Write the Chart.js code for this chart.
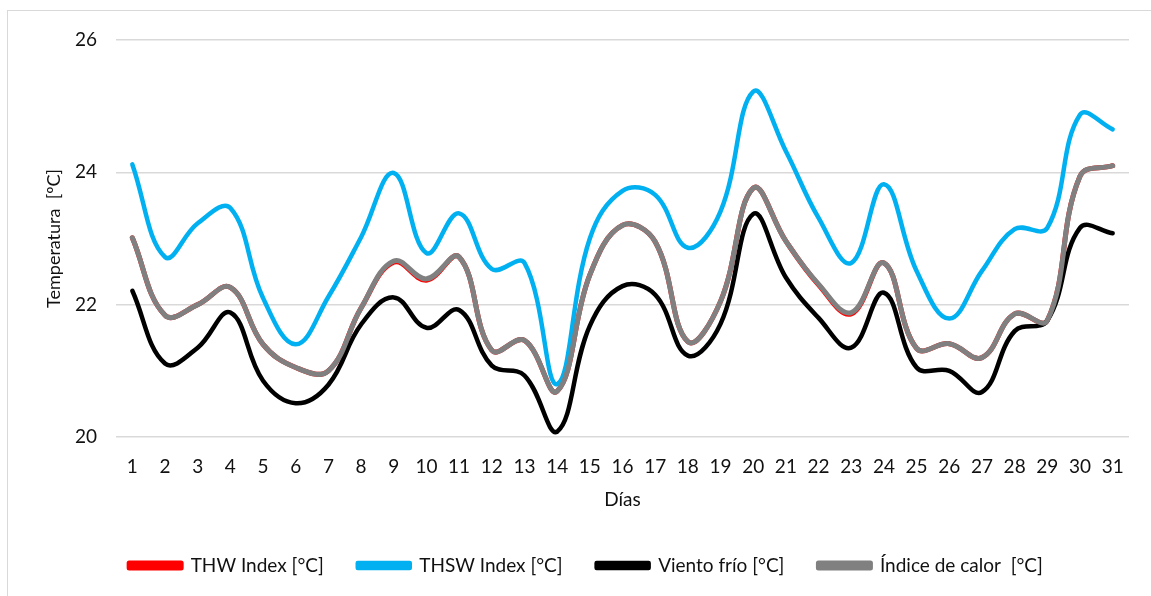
<!DOCTYPE html>
<html>
<head>
<meta charset="utf-8">
<script src="https://cdn.jsdelivr.net/npm/chart.js@4.4.1/dist/chart.umd.min.js"></script>
<style>
  html, body { margin: 0; padding: 0; background: #fff; overflow: hidden; }
  #frame { position: absolute; left: 7px; top: 10px; width: 1160px; height: 620px; border: 1px solid #d9d9d9; box-sizing: border-box; }
  #wrap { position: absolute; left: 0; top: 0; width: 1151px; height: 596px; }
</style>
</head>
<body>
<div id="frame"></div>
<div id="wrap"><canvas id="c" width="1151" height="596"></canvas></div>
<script>
const days = ["1","2","3","4","5","6","7","8","9","10","11","12","13","14","15","16","17","18","19","20","21","22","23","24","25","26","27","28","29","30","31"];
const yTicks = [20, 22, 24, 26];

const thwIndex = [23.01, 21.84, 22.00, 22.26, 21.40, 21.05, 21.00, 21.95, 22.64, 22.37, 22.72, 21.31, 21.46, 20.69, 22.45, 23.20, 22.95, 21.44, 22.05, 23.76, 22.96, 22.30, 21.86, 22.63, 21.34, 21.41, 21.20, 21.86, 21.76, 23.94, 24.10];
const thswIndex = [24.12, 22.72, 23.23, 23.46, 22.10, 21.40, 22.12, 23.02, 23.99, 22.78, 23.38, 22.54, 22.63, 20.80, 23.00, 23.72, 23.66, 22.86, 23.41, 25.22, 24.32, 23.31, 22.63, 23.82, 22.51, 21.79, 22.51, 23.14, 23.16, 24.87, 24.65];
const vientoFrio = [22.21, 21.11, 21.35, 21.88, 20.85, 20.51, 20.79, 21.70, 22.11, 21.65, 21.92, 21.08, 20.93, 20.08, 21.68, 22.28, 22.15, 21.23, 21.71, 23.37, 22.41, 21.80, 21.35, 22.18, 21.05, 21.00, 20.68, 21.60, 21.76, 23.16, 23.08];
const indiceCalor = [23.01, 21.84, 22.00, 22.26, 21.40, 21.05, 21.00, 21.95, 22.66, 22.39, 22.72, 21.31, 21.46, 20.69, 22.45, 23.20, 22.95, 21.44, 22.05, 23.76, 22.96, 22.31, 21.88, 22.63, 21.34, 21.41, 21.20, 21.86, 21.76, 23.94, 24.10];

const FONT = "Lato, 'Open Sans', sans-serif";

function ds(label, data, color, width, order) {
  return {
    label, data,
    borderColor: color, backgroundColor: color,
    borderWidth: width, pointRadius: 0, pointHoverRadius: 0,
    tension: 0.4, cubicInterpolationMode: 'default',
    borderCapStyle: 'round', borderJoinStyle: 'round',
    fill: false, order
  };
}

new Chart(document.getElementById('c'), {
  type: 'line',
  data: {
    labels: days,
    datasets: [
      ds('THW Index [°C]', thwIndex, '#ff0000', 5, 3),
      ds('THSW Index [°C]', thswIndex, '#00b0f0', 4.5, 2),
      ds('Viento frío [°C]', vientoFrio, '#000000', 4.5, 1),
      ds('Índice de calor  [°C]', indiceCalor, '#808080', 5, 0)
    ]
  },
  options: {
    responsive: false,
    animation: false,
    devicePixelRatio: 1,
    layout: { padding: { top: 40, right: 22, bottom: 11, left: 43 } },
    plugins: {
      tooltip: { enabled: false },
      legend: {
        position: 'bottom',
        labels: {
          color: '#111',
          font: { family: FONT, size: 19 },
          boxWidth: 52, boxHeight: 5,
          padding: 34,
          sort: (a, b) => a.datasetIndex - b.datasetIndex
        }
      }
    },
    scales: {
      x: {
        offset: true,
        grid: { display: false },
        border: { display: false },
        ticks: { color: '#111', font: { family: FONT, size: 19 }, padding: 10, maxRotation: 0, autoSkip: false },
        title: { display: true, text: 'Días', color: '#111', font: { family: FONT, size: 19 }, padding: { top: 1, bottom: 11 } },
        afterFit(s) { s.height = 85; }
      },
      y: {
        min: 20, max: 26,
        afterBuildTicks(s) { s.ticks = yTicks.map(v => ({ value: v })); },
        grid: { color: '#d9d9d9', lineWidth: 1.5, drawTicks: false },
        border: { display: false },
        ticks: { color: '#111', font: { family: FONT, size: 19 }, padding: 19 },
        title: { display: true, text: 'Temperatura  [ºC]', color: '#111', font: { family: FONT, size: 18 }, padding: { top: 0, bottom: 0 } },
        afterFit(s) { s.width = 73; }
      }
    }
  }
});
</script>
</body>
</html>
